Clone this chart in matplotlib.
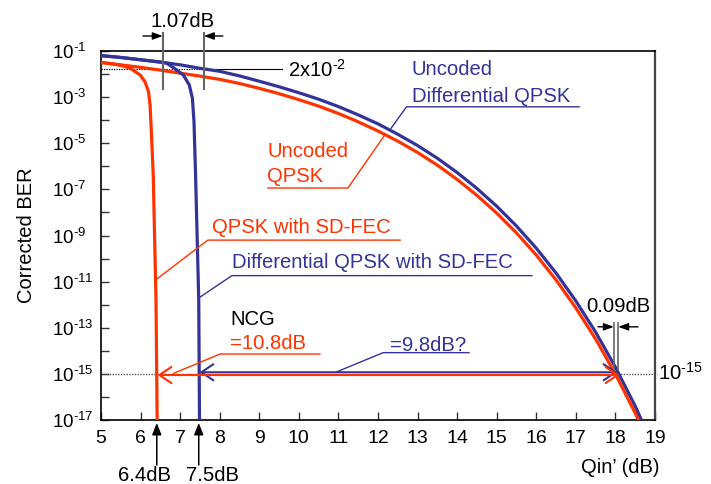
import numpy as np
import matplotlib
matplotlib.use("Agg")
import matplotlib.pyplot as plt
from matplotlib.ticker import FixedLocator, FuncFormatter
import matplotlib.transforms as mtransforms

plt.rcParams['font.family'] = ['Liberation Sans', 'DejaVu Sans']
plt.rcParams['mathtext.fontset'] = 'custom'
plt.rcParams['mathtext.rm'] = 'Liberation Sans'
plt.rcParams['mathtext.it'] = 'Liberation Sans:italic'
plt.rcParams['mathtext.bf'] = 'Liberation Sans:bold'

RED = '#ff3300'
BLUE = '#333399'

# --- data (BER as log10) ---
qin_db = [5.0, 5.5, 6.0, 6.5, 7.0, 7.5, 8.0, 8.5, 9.0, 9.5, 10.0, 10.5, 11.0, 11.5,
          12.0, 12.5, 13.0, 13.5, 14.0, 14.5, 15.0, 15.5, 16.0, 16.5, 17.0, 17.5,
          18.0, 18.5, 19.0]
uncoded_qpsk = [-1.50, -1.60, -1.71, -1.83, -1.96, -2.09, -2.23, -2.41, -2.62, -2.85,
                -3.11, -3.39, -3.71, -4.07, -4.47, -4.91, -5.40, -5.95, -6.57, -7.26,
                -8.03, -8.89, -9.85, -10.93, -12.14, -13.49, -15.01, -16.70, -18.60]
uncoded_dqpsk = [-1.20, -1.28, -1.38, -1.48, -1.60, -1.75, -1.88, -2.08, -2.31, -2.55,
                 -2.81, -3.09, -3.41, -3.77, -4.16, -4.61, -5.10, -5.65, -6.27, -6.96,
                 -7.73, -8.59, -9.55, -10.63, -11.84, -13.19, -14.71, -16.40, -18.30]

sdfec_qpsk_q = [5.0, 5.31, 5.56, 5.73, 5.99, 6.11, 6.20, 6.24, 6.28, 6.32, 6.39, 6.42]
sdfec_qpsk = [-1.50, -1.56, -1.65, -1.74, -2.04, -2.33, -2.76, -3.34, -4.77, -6.38,
              -11.80, -17.20]
sdfec_dqpsk_q = [5.0, 5.5, 6.0, 6.5, 6.66, 6.83, 7.08, 7.23, 7.31, 7.35, 7.39, 7.47, 7.49]
sdfec_dqpsk = [-1.20, -1.28, -1.38, -1.48, -1.53, -1.72, -2.04, -2.47, -3.05, -4.07,
               -6.38, -11.80, -17.20]

x_ticks = list(range(5, 20))
y_exponents = list(range(1, 18))


def P(x, e):
    # data point from dB value and log10(BER)
    return x, 10.0 ** e


def sci(exp):
    # 10 with a hyphen-style superscript exponent, as in the original slide
    return '10$^{\\text{-%d}}$' % exp


fig = plt.figure(figsize=(7.11, 4.84), dpi=100)
ax = fig.add_axes([101 / 711, 1 - 420 / 484, 554 / 711, 369 / 484])

ax.plot(qin_db, 10.0 ** np.array(uncoded_dqpsk), color=BLUE, lw=2.3, zorder=3)
ax.plot(qin_db, 10.0 ** np.array(uncoded_qpsk), color=RED, lw=2.3, zorder=3)
ax.plot(sdfec_qpsk_q, 10.0 ** np.array(sdfec_qpsk), color=RED, lw=2.3, zorder=3)
ax.plot(sdfec_dqpsk_q, 10.0 ** np.array(sdfec_dqpsk), color=BLUE, lw=2.3, zorder=4)

ax.set_yscale('log')
ax.set_xlim(5, 19)
ax.set_ylim(1e-17, 1e-1)

# axes styling
ax.xaxis.set_major_locator(FixedLocator(x_ticks))
ax.yaxis.set_major_locator(FixedLocator([10.0 ** -k for k in y_exponents]))
ax.yaxis.set_minor_locator(FixedLocator([]))
ax.yaxis.set_major_formatter(FuncFormatter(
    lambda v, pos: sci(-round(np.log10(v))) if round(np.log10(v)) % 2 else ''))
ax.tick_params(axis='both', direction='in', length=6, width=1, color='#333333')
ax.tick_params(axis='x', labelsize=14, pad=7)
ax.tick_params(axis='y', labelsize=13.5, pad=35)
for lab in ax.get_yticklabels():
    lab.set_horizontalalignment('left')
for side in ['left', 'bottom', 'top']:
    ax.spines[side].set_linewidth(1.2)
    ax.spines[side].set_color('black')
ax.spines['right'].set_linewidth(1.6)
ax.spines['right'].set_color('#444444')

ax.set_ylabel('Corrected BER', fontsize=14.5)
ax.yaxis.set_label_coords(-0.118, 0.5)
ax.set_xlabel('Qin\u2019 (dB)', fontsize=14.5)
ax.xaxis.set_label_coords(0.937, -0.13)
ax.xaxis.label.set_verticalalignment('center')

fs = 14.6

# reference levels
ax.plot(*zip(P(5, -1.79), P(7.6, -1.79)), color='black', lw=0.9, ls=(0, (1, 1)), zorder=2)
ax.plot(*zip(P(7.6, -1.79), P(9.58, -1.79)), color='black', lw=0.8, zorder=2, clip_on=False)
ax.text(*P(9.72, -2.11), '2x' + sci(2), fontsize=fs, ha='left', va='baseline')

ax.plot(*zip(P(5, -15.0), P(19.05, -15.0)), color='#555555', lw=1.0, ls=(0, (1, 1)),
        zorder=2, clip_on=False)
ax.text(*P(19.08, -15.24), sci(15), fontsize=fs, ha='left', va='baseline')

# NCG arrows at 1e-15
ax.annotate('', xy=P(18.05, -14.93), xytext=P(7.49, -14.93),
            arrowprops=dict(arrowstyle='<->,head_length=0.43,head_width=0.29',
                            mutation_scale=20, color=BLUE, lw=1.5,
                            shrinkA=0, shrinkB=0), zorder=5)
ax.annotate('', xy=P(18.1, -15.05), xytext=P(6.43, -15.05),
            arrowprops=dict(arrowstyle='<->,head_length=0.43,head_width=0.29',
                            mutation_scale=20, color=RED, lw=1.5,
                            shrinkA=0, shrinkB=0), zorder=5)

# 1.07dB marker
for xv in [6.56, 7.60]:
    ax.plot(*zip(P(xv, -0.22), P(xv, -2.65)), color='#666666', lw=1.5, clip_on=False,
            zorder=6)
for start, end in [(6.06, 6.56), (8.08, 7.60)]:
    ax.annotate('', xy=P(end, -0.35), xytext=P(start, -0.35), annotation_clip=False,
                arrowprops=dict(arrowstyle='-|>,head_length=0.6,head_width=0.22',
                                mutation_scale=10, color='black', lw=1,
                                shrinkA=0, shrinkB=0))
ax.text(*P(7.07, 0.04), '1.07dB', fontsize=fs, ha='center', va='baseline')

# 0.09dB marker
for xv in [17.96, 18.07]:
    ax.plot(*zip(P(xv, -12.8), P(xv, -14.83)), color='#666666', lw=1.2, zorder=6)
for start, end in [(17.56, 17.96), (18.57, 18.07)]:
    ax.annotate('', xy=P(end, -12.96), xytext=P(start, -12.96),
                arrowprops=dict(arrowstyle='-|>,head_length=0.6,head_width=0.22',
                                mutation_scale=10, color='black', lw=1,
                                shrinkA=0, shrinkB=0))
ax.text(*P(18.07, -12.30), '0.09dB', fontsize=fs, ha='center', va='baseline')

# threshold arrows below the x axis
trans = mtransforms.blended_transform_factory(ax.transData, ax.transAxes)
for xv, xt, lab in [(6.41, 6.11, '6.4dB'), (7.47, 7.81, '7.5dB')]:
    ax.annotate('', xy=(xv, -0.008), xytext=(xv, -0.122), xycoords=trans,
                textcoords=trans, annotation_clip=False,
                arrowprops=dict(arrowstyle='-|>,head_length=0.7,head_width=0.28',
                                mutation_scale=10, color='black', lw=1.1,
                                shrinkA=0, shrinkB=0))
    ax.text(xt, -0.166, lab, transform=trans, fontsize=fs, ha='center', va='baseline')


# curve labels with underline leaders
def callout(lines, color, pts):
    for x, e, s in lines:
        ax.text(*P(x, e), s, color=color, fontsize=fs, ha='left', va='baseline')
    xs, ys = zip(*[P(x, e) for x, e in pts])
    ax.plot(xs, ys, color=color, lw=1.0, zorder=4, clip_on=False)


callout([(12.85, -2.04, 'Uncoded'), (12.85, -3.20, 'Differential QPSK')], BLUE,
        [(17.08, -3.42), (12.72, -3.42), (12.33, -4.35)])
callout([(9.20, -5.58, 'Uncoded'), (9.20, -6.67, 'QPSK')], RED,
        [(9.22, -6.94), (11.24, -6.94), (12.18, -4.62)])
callout([(7.81, -8.91, 'QPSK with SD-FEC')], RED,
        [(12.56, -9.20), (7.70, -9.20), (6.40, -10.90)])
callout([(8.31, -10.40, 'Differential QPSK with SD-FEC')], BLUE,
        [(15.89, -10.74), (8.31, -10.74), (7.46, -11.72)])
ax.text(*P(8.26, -12.88), 'NCG', fontsize=fs, ha='left', va='baseline')
callout([(8.26, -13.92, '=10.8dB')], RED,
        [(10.53, -14.14), (8.01, -14.14), (6.83, -14.98)])
callout([(12.30, -14.00, '=9.8dB?')], BLUE,
        [(14.30, -14.08), (12.13, -14.08), (10.96, -14.91)])

fig.savefig('out.png', dpi=100)
